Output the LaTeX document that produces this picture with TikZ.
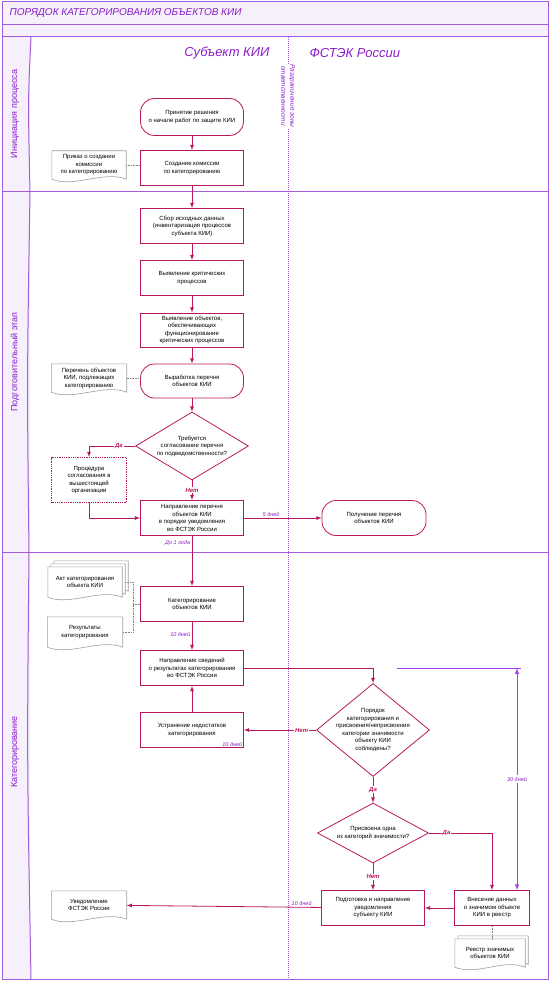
\documentclass[tikz,border=0pt]{standalone}
\usepackage{fontspec}
\setmainfont{Liberation Sans}
\usetikzlibrary{shapes.geometric,calc}
\pgfdeclarelayer{background}
\pgfsetlayers{background,main}
\definecolor{kiired}{HTML}{B8185E}
\definecolor{kiilane}{HTML}{A55BD8}
\definecolor{kiiviolet}{HTML}{8A1CC8}
\definecolor{kiifill}{HTML}{F5F0FB}
\definecolor{kiiarrow}{HTML}{A640E6}
% document outline with a wavy lower edge, shifted by #1 up and right
\newcommand{\wavydoc}[2][0]{%
  \draw[docline] ([shift={(#1,-#1)}]#2.north west) -- ([shift={(#1,-#1)}]#2.north east)
    -- ([shift={(#1,-#1)}]#2.south east)
    .. controls ([shift={(#1-22,-#1-9)}]#2.south east) and ([shift={(#1+22,-#1+9)}]#2.south west)
    .. ([shift={(#1,-#1)}]#2.south west) -- cycle;}
\begin{document}
\begin{tikzpicture}[x=1pt,y=-1pt,
  txt/.style={font=\fontsize{6}{7.5}\selectfont, align=center},
  box/.style={txt, draw=kiired, line width=0.8pt, minimum width=103, minimum height=35, inner sep=1pt},
  term/.style={box, rounded corners=14pt},
  decision/.style={diamond, draw=kiired, line width=0.8pt, inner sep=0},
  docbox/.style={txt, minimum width=75, minimum height=28, inner sep=1pt},
  docline/.style={draw=gray!75, line width=0.6pt, fill=white},
  note/.style={gray, densely dotted, line width=0.6pt},
  arr/.style={kiired, line width=0.8pt, -latex},
  yesno/.style={font=\fontsize{6}{7}\selectfont\bfseries\itshape, fill=white, inner sep=1pt},
  days/.style={font=\fontsize{5.5}{6.5}\selectfont\itshape, text=kiiviolet, inner sep=1.5pt},
  lane/.style={draw=kiilane, line width=1pt},
  lanelabel/.style={rotate=90, font=\fontsize{9}{11}\selectfont, text=kiiviolet}]
  \useasboundingbox (0,0) rectangle (550,981);

  % frame and lanes
  \fill[kiifill] (2,2) rectangle (548,37);
  \fill[kiifill] (2,37) rectangle (30,979);
  \draw[lane] (2,2) rectangle (548,979);
  \draw[lane] (2,25) -- (548,25);
  \draw[lane] (2,37) -- (548,37);
  \draw[lane] (2,192) -- (548,192);
  \draw[lane] (2,552) -- (548,552);
  \draw[lane] (31,37) .. controls (28,100) .. (30,192) .. controls (27,380) .. (29,552) .. controls (27,760) .. (31,979);
  \node[anchor=west, font=\fontsize{10}{12}\selectfont\itshape, text=kiiviolet] (title) at (6,13) {ПОРЯДОК КАТЕГОРИРОВАНИЯ ОБЪЕКТОВ КИИ};
  \node[lanelabel] (lane-init) at (15,114) {Инициация процесса};
  \node[lanelabel] (lane-prep) at (15,362) {Подготовительный этап};
  \node[lanelabel] (lane-cat) at (15,752) {Категорирование};
  \node[anchor=east, font=\fontsize{13}{15}\selectfont\itshape, text=kiiviolet] (head-subj) at (273,53) {Субъект КИИ};
  \node[anchor=west, font=\fontsize{13}{15}\selectfont\itshape, text=kiiviolet] (head-fstek) at (306,53) {ФСТЭК России};
  \draw[kiilane, densely dotted, line width=1pt] (288,37) -- (288,979);
  \node[rotate=-90, fill=white, inner sep=1pt, align=center, font=\fontsize{6.5}{9}\selectfont\itshape, text=kiiviolet] (zone) at (288,96) {Разграничение зоны\\ответственности};

  % initiation
  \node[term, minimum height=37] (start) at (192,117) {Принятие решения\\о начале работ по защите КИИ};
  \node[box] (kom) at (192,168) {Создание комиссии\\по категорированию};
  \node[docbox, minimum width=74] (prikaz) at (89,165) {Приказ о создании\\комиссии\\по категорированию};

  % preparation
  \node[box] (sbor) at (192,226) {Сбор исходных данных\\(инвентаризация процессов\\субъекта КИИ)};
  \node[box] (krit) at (192,278) {Выявление критических\\процессов};
  \node[box, minimum height=34] (obj) at (192,330) {Выявление объектов,\\обеспечивающих\\функционирование\\критических процессов};
  \node[term, minimum height=34] (perech) at (192,381) {Выработка перечня\\объектов КИИ};
  \node[docbox] (perdoc) at (89,378) {Перечень объектов\\КИИ, подлежащих\\категорированию};
  \node[decision, minimum width=113, minimum height=68] (q1) at (192,446) {};
  \node[txt] (q1-text) at (q1) {Требуется\\согласование перечня\\по подведомственности?};
  \node[box, densely dotted, minimum width=75, minimum height=45] (proc) at (89,480) {Процедура\\согласования в\\вышестоящей\\организации};
  \node[box] (napr) at (192,518) {Направление перечня\\объектов КИИ\\в порядке уведомления\\во ФСТЭК России};
  \node[term, minimum width=104] (poluch) at (374,518) {Получение перечня\\объектов КИИ};

  % categorization
  \node[box] (kat) at (192,604) {Категорирование\\объектов КИИ};
  \node[docbox, minimum width=74, minimum height=30] (act) at (85,582) {Акт категорирования\\объекта КИИ};
  \node[docbox, minimum height=30] (res) at (85,632) {Результаты\\категорирования};
  \coordinate (join) at (133,604);
  \node[box] (sved) at (192,668) {Направление сведений\\о результатах категорирования\\во ФСТЭК России};
  \node[box] (ustr) at (192,730) {Устранение недостатков\\категорирования};
  \node[days, anchor=south east] (ustr-days) at (ustr.south east) {10 дней};
  \node[decision, minimum width=113, minimum height=93] (q2) at (373,730) {};
  \node[txt] (q2-text) at (q2) {Порядок\\категорирования и\\присвоения/неприсвоения\\категории значимости\\объекту КИИ\\соблюдены?};
  \node[decision, minimum width=111, minimum height=60] (q3) at (373,833) {};
  \node[txt] (q3-text) at (q3) {Присвоена одна\\из категорий значимости?};
  \node[box] (podg) at (373,908) {Подготовка и направление\\уведомления\\субъекту КИИ};
  \node[box, minimum width=75] (vnes) at (492,908) {Внесение данных\\о значимом объекте\\КИИ в реестр};
  \node[docbox, minimum width=70] (reestr) at (490,953) {Реестр значимых\\объектов КИИ};
  \node[docbox] (uved) at (89,905) {Уведомление\\ФСТЭК России};
  \coordinate (loop-l) at (397,668);
  \coordinate (loop-t) at (517,668);

  \begin{pgfonlayer}{background}
    \wavydoc{prikaz}
    \wavydoc{perdoc}
    \wavydoc[6]{act}
    \wavydoc[3]{act}
    \wavydoc{act}
    \wavydoc{res}
    \wavydoc{uved}
    \wavydoc[3]{reestr}
    \wavydoc{reestr}
  \end{pgfonlayer}

  % connectors
  \draw[arr] (start) -- (kom);
  \draw[note] (prikaz.east) -- (prikaz.east -| kom.west);
  \draw[arr] (kom) -- (sbor);
  \draw[arr] (sbor) -- (krit);
  \draw[arr] (krit) -- (obj);
  \draw[arr] (obj) -- (perech);
  \draw[note] (perdoc.east) -- (perdoc.east -| perech.west);
  \draw[arr] (perech) -- (q1);
  \draw[arr] (q1.west) -- node[yesno, pos=0.35] {Да} (q1.west -| proc) -- (proc.north);
  \draw[arr] (proc.south) |- (napr.west);
  \draw[arr] (q1.south) -- node[yesno] {Нет} (napr.north);
  \draw[arr] (napr) -- node[days, above, pos=0.35] {5 дней} (poluch);
  \draw[arr] (napr) -- node[days, left, pos=0.15] {До 1 года} (kat);
  \draw[note] ([xshift=3]act.east) -| (join) |- (res.east);
  \draw[note] (join) -- (kat.west);
  \draw[arr] (kat) -- node[days, left, pos=0.45] {10 дней} (sved);
  \draw[arr] (sved.east) -| (q2.north);
  \draw[arr] (q2.west) -- node[yesno, pos=0.2] {Нет} (ustr.east);
  \draw[arr] (ustr) -- (sved);
  \draw[arr] (q2.south) -- node[yesno] {Да} (q3.north);
  \draw[arr] (q3.east) -- node[yesno, pos=0.28] {Да} (q3.east -| vnes) -- (vnes.north);
  \draw[arr] (q3.south) -- node[yesno] {Нет} (podg.north);
  \draw[arr] (vnes) -- (podg);
  \draw[note] (vnes.south) -- (vnes.south |- reestr.north);
  \draw[arr] (podg) -- node[days, above, pos=0.1] {10 дней} (uved);
  \draw[kiiarrow, line width=1pt] (loop-l) -- ([xshift=4]loop-t);
  \draw[kiiarrow, line width=1pt, latex-latex] (loop-t) -- node[days, fill=white] {30 дней} (loop-t |- vnes.north);
\end{tikzpicture}
\end{document}
